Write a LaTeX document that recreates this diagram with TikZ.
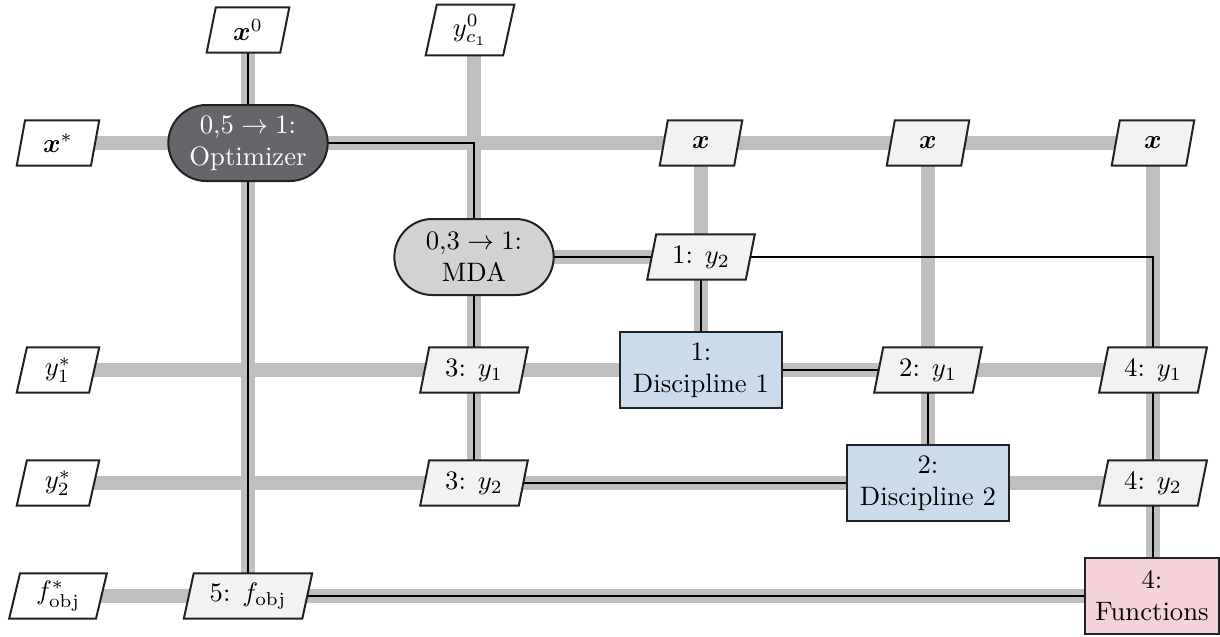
\documentclass[tikz,border=0pt]{standalone}
\usepackage{amsmath,bm}
\usetikzlibrary{shapes.geometric,shapes.misc,calc}
\definecolor{optfill}{HTML}{64666A}
\definecolor{mdafill}{HTML}{D1D2D4}
\definecolor{discfill}{HTML}{CCDBEC}
\definecolor{funcfill}{HTML}{F5D1DA}
\definecolor{datafill}{HTML}{F2F2F2}
\definecolor{dataline}{HTML}{BFBFBF}
\definecolor{edge}{HTML}{222222}
\pgfdeclarelayer{datalayer}
\pgfdeclarelayer{proclayer}
\pgfsetlayers{datalayer,proclayer,main}
\tikzset{
  optbox/.style={rounded rectangle, draw=edge, line width=0.75pt, fill=optfill, text=white,
    minimum width=63.75pt, minimum height=28.5pt, align=center, inner sep=2pt},
  mdabox/.style={rounded rectangle, draw=edge, line width=0.75pt, fill=mdafill,
    minimum width=63.75pt, minimum height=28.5pt, align=center, inner sep=2pt},
  discbox/.style={rectangle, draw=edge, line width=0.75pt, fill=discfill,
    minimum width=61pt, minimum height=28.5pt, align=center, inner sep=2pt},
  funcbox/.style={rectangle, draw=edge, line width=0.75pt, fill=funcfill,
    minimum width=50.5pt, minimum height=28.5pt, align=center, inner sep=2pt},
  datainter/.style={trapezium, trapezium left angle=75, trapezium right angle=105,
    draw=edge, line width=0.75pt, fill=datafill, minimum height=17pt, minimum width=31pt,
    inner xsep=6pt, inner ysep=2pt, trapezium stretches=true},
  dataio/.style={datainter, fill=white},
  dline/.style={draw=dataline, line width=5.6pt},
  pline/.style={draw=black, line width=1.1pt},
}
\begin{document}
\begin{tikzpicture}[x=0.375pt, y=-0.375pt]
\useasboundingbox (0,0) rectangle (1220,636);
% diagonal nodes
\node[optbox] (opt) at (248,143) {$0{,}5 \rightarrow 1$:\\Optimizer};
\node[mdabox] (mda) at (474,257) {$0{,}3 \rightarrow 1$:\\MDA};
\node[discbox] (d1) at (701,370) {1:\\Discipline 1};
\node[discbox] (d2) at (928,483) {2:\\Discipline 2};
\node[funcbox] (func) at (1152,596) {4:\\Functions};
% inputs
\node[dataio] (x0) at (248,30) {$\bm{x}^0$};
\node[dataio, minimum height=19pt] (yc0) at (470,30) {$y_{c_1}^{0}$};
% outputs
\node[dataio] (xstar) at (58,143) {$\bm{x}^*$};
\node[dataio] (y1star) at (58,370) {$y_1^*$};
\node[dataio] (y2star) at (58,483) {$y_2^*$};
\node[dataio] (fstar) at (58,596) {$f^*_\text{obj}$};
% internal data
\node[datainter] (x3) at (701,143) {$\bm{x}$};
\node[datainter] (x4) at (928,143) {$\bm{x}$};
\node[datainter] (x5) at (1153,143) {$\bm{x}$};
\node[datainter] (y2d1) at (701,257) {1: $y_2$};
\node[datainter] (y1mda) at (474,370) {3: $y_1$};
\node[datainter] (y1d2) at (928,370) {2: $y_1$};
\node[datainter] (y1f) at (1153,370) {4: $y_1$};
\node[datainter] (y2mda) at (474,483) {3: $y_2$};
\node[datainter] (y2f) at (1153,483) {4: $y_2$};
\node[datainter] (fopt) at (248,596) {5: $f_\text{obj}$};
% data lines
\begin{pgfonlayer}{datalayer}
\path[dline] (xstar.center) -- (x5.center);
\path[dline] (x0.center) -- (fopt.center);
\path[dline] (mda.center |- yc0.center) -- (y2mda.center);
\path[dline] (mda.center) -- (y2d1.center);
\path[dline] (x3.center) -- (d1.center);
\path[dline] (y1star.center) -- (y1f.center);
\path[dline] (x4.center) -- (d2.center);
\path[dline] (y2star.center) -- (y2f.center);
\path[dline] (x5.center) -- (x5.center |- func.center);
\path[dline] (fstar.center) -- (func.center);
\end{pgfonlayer}
% process lines
\begin{pgfonlayer}{proclayer}
\path[pline] (x0.center) -- (fopt.center);
\path[pline] (opt.center) -| (mda.center);
\path[pline] (mda.center) -- (y2mda.center);
\path[pline] (mda.center) -- (y2d1.center);
\path[pline] (y2d1.center) -- (d1.center);
\path[pline] (y2d1.center) -| (x5.center |- func.north);
\path[pline] (d1.center) -- (y1d2.center);
\path[pline] (y1d2.center) -- (d2.center);
\path[pline] (y2mda.center) -- (d2.center);
\path[pline] (fopt.center) -- (func.center);
\end{pgfonlayer}
\end{tikzpicture}
\end{document}
